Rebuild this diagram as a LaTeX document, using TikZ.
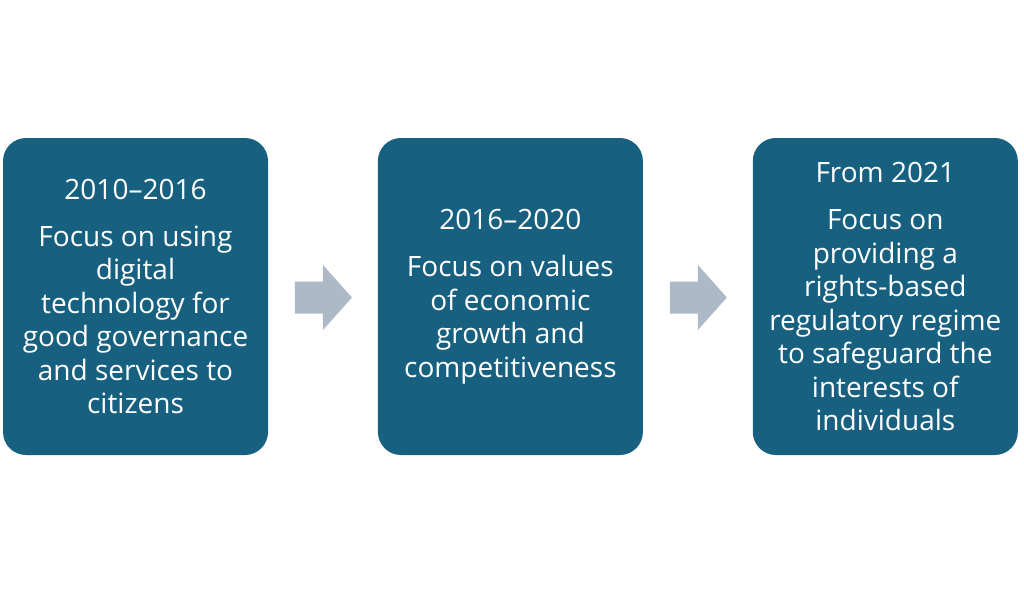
\documentclass[tikz,border=0pt]{standalone}
\usepackage{fontspec}
\setmainfont{Open Sans}
\usetikzlibrary{positioning,calc}
\definecolor{phaseblue}{HTML}{17607F}
\definecolor{arrowgrey}{HTML}{ADB9C7}
\tikzset{
  phase/.style={fill=phaseblue, rounded corners=23pt, minimum width=265pt,
    minimum height=317pt, text=white, align=center, inner sep=0pt,
    font=\fontsize{28}{33.5}\selectfont},
  blockarrow/.style={fill=arrowgrey}
}

\begin{document}
\begin{tikzpicture}[x=1pt,y=-1pt]
\useasboundingbox (0,0) rectangle (1024,594);
\node[phase] (p1) at (135.5,296.5) {2010–2016\\[13.5pt]
  Focus on using\\ digital\\ technology for\\ good governance\\ and services to\\ citizens};
\node[phase, right=109.5pt of p1] (p2) {2016–2020\\[13.5pt]
  Focus on values\\ of economic\\ growth and\\ competitiveness};
\node[phase, right=109.5pt of p2] (p3) {From 2021\\[13.5pt]
  Focus on\\ providing a\\ rights-based\\ regulatory regime\\ to safeguard the\\ interests of\\ individuals};
% block arrows between the phases
\foreach \a/\b in {p1/p2,p2/p3}{
  \coordinate (\a-\b) at ($(\a.east)!0.5!(\b.west)+(0,1)$);
  \fill[blockarrow] ($(\a-\b)+(-28,-16)$) -- ++(28,0) -- ++(0,-16.5) -- ++(29,32.5)
    -- ++(-29,32.5) -- ++(0,-16.5) -- ++(-28,0) -- cycle;
}
\end{tikzpicture}
\end{document}
